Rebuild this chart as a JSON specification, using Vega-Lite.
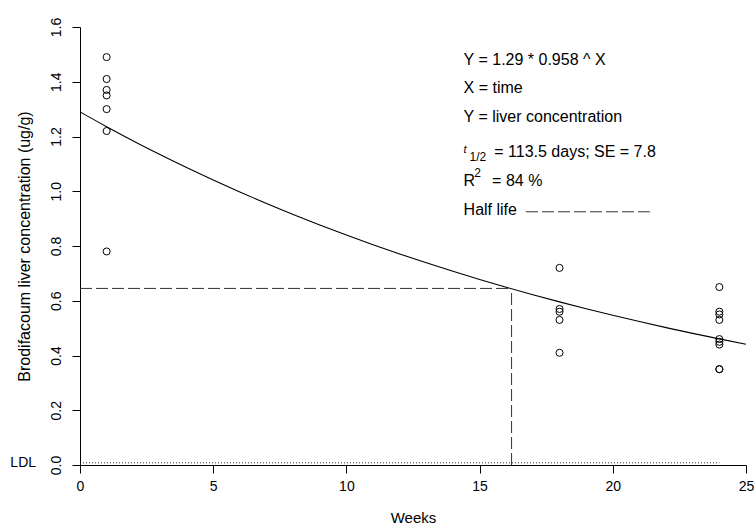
{
  "$schema": "https://vega.github.io/schema/vega-lite/v6.json",
  "width": 666,
  "height": 438,
  "autosize": {"type": "none"},
  "padding": {"left": 80, "top": 27, "right": 8, "bottom": 65},
  "background": "white",
  "config": {
    "view": {"stroke": null},
    "font": "Liberation Sans",
    "axis": {
      "grid": false,
      "domainColor": "black",
      "domainWidth": 1,
      "tickColor": "black",
      "tickWidth": 1,
      "tickSize": 8,
      "labelColor": "black",
      "titleColor": "black",
      "labelFont": "Liberation Sans",
      "titleFont": "Liberation Sans",
      "titleFontWeight": "normal",
      "labelFontSize": 14,
      "titleFontSize": 15
    }
  },
  "datasets": {
    "obs": [
      {"week": 1, "conc": 1.49}, {"week": 1, "conc": 1.41}, {"week": 1, "conc": 1.37},
      {"week": 1, "conc": 1.35}, {"week": 1, "conc": 1.30}, {"week": 1, "conc": 1.22},
      {"week": 1, "conc": 0.78},
      {"week": 18, "conc": 0.72}, {"week": 18, "conc": 0.57}, {"week": 18, "conc": 0.56},
      {"week": 18, "conc": 0.53}, {"week": 18, "conc": 0.41},
      {"week": 24, "conc": 0.65}, {"week": 24, "conc": 0.56}, {"week": 24, "conc": 0.55},
      {"week": 24, "conc": 0.53}, {"week": 24, "conc": 0.46}, {"week": 24, "conc": 0.45},
      {"week": 24, "conc": 0.44}, {"week": 24, "conc": 0.35}, {"week": 24, "conc": 0.35}
    ],
    "fit": [
      {"week": 0, "conc": 1.29}, {"week": 1, "conc": 1.2358}, {"week": 2, "conc": 1.1839},
      {"week": 3, "conc": 1.1342}, {"week": 4, "conc": 1.0866}, {"week": 5, "conc": 1.0409},
      {"week": 6, "conc": 0.9972}, {"week": 7, "conc": 0.9553}, {"week": 8, "conc": 0.9152},
      {"week": 9, "conc": 0.8768}, {"week": 10, "conc": 0.8399}, {"week": 11, "conc": 0.8047},
      {"week": 12, "conc": 0.7709}, {"week": 13, "conc": 0.7385}, {"week": 14, "conc": 0.7075},
      {"week": 15, "conc": 0.6778}, {"week": 16, "conc": 0.6493}, {"week": 17, "conc": 0.6220},
      {"week": 18, "conc": 0.5959}, {"week": 19, "conc": 0.5709}, {"week": 20, "conc": 0.5469},
      {"week": 21, "conc": 0.5239}, {"week": 22, "conc": 0.5019}, {"week": 23, "conc": 0.4808},
      {"week": 24, "conc": 0.4606}, {"week": 25, "conc": 0.4413}
    ],
    "halflife": [
      {"week": 0, "week2": 16.2, "conc": 0.645, "conc2": 0.645},
      {"week": 16.2, "week2": 16.2, "conc": 0, "conc2": 0.645},
      {"week": 16.74, "week2": 21.5, "conc": 0.925, "conc2": 0.925}
    ],
    "ldl": [
      {"week": 0, "week2": 24, "conc": 0.008, "conc2": 0.008}
    ],
    "ldllabel": [
      {"week": -1.65, "conc": 0.008, "label": "LDL"}
    ],
    "notes": [
      {"week": 14.4, "conc": 1.478, "label": "Y = 1.29 * 0.958 ^ X"},
      {"week": 14.4, "conc": 1.376, "label": "X = time"},
      {"week": 14.4, "conc": 1.270, "label": "Y = liver concentration"},
      {"week": 15.55, "conc": 1.142, "label": "=  113.5 days; SE = 7.8"},
      {"week": 14.4, "conc": 1.036, "label": "R"},
      {"week": 15.47, "conc": 1.036, "label": "= 84 %"},
      {"week": 14.4, "conc": 0.931, "label": "Half life"}
    ],
    "tnote": [
      {"week": 14.4, "conc": 1.152, "label": "t"}
    ],
    "subnote": [
      {"week": 14.62, "conc": 1.124, "label": "1/2"}
    ],
    "supnote": [
      {"week": 14.8, "conc": 1.068, "label": "2"}
    ]
  },
  "layer": [
    {
      "data": {"name": "obs"},
      "mark": {"type": "point", "shape": "circle", "filled": false, "stroke": "black", "strokeWidth": 1, "size": 50, "opacity": 1},
      "encoding": {
        "x": {
          "field": "week", "type": "quantitative",
          "scale": {"domain": [0, 25], "nice": false, "zero": false},
          "axis": {"title": "Weeks", "values": [0, 5, 10, 15, 20, 25], "format": "d", "labelPadding": 6, "titlePadding": 17, "labelFlush": false}
        },
        "y": {
          "field": "conc", "type": "quantitative",
          "scale": {"domain": [0, 1.6], "nice": false, "zero": false},
          "axis": {"title": "Brodifacoum liver concentration (ug/g)", "values": [0, 0.2, 0.4, 0.6, 0.8, 1.0, 1.2, 1.4, 1.6], "format": ".1f", "labelAngle": -90, "labelAlign": "center", "labelBaseline": "bottom", "labelPadding": 9, "titlePadding": 17, "titleFontSize": 16, "labelFlush": false}
        }
      }
    },
    {
      "data": {"name": "fit"},
      "mark": {"type": "line", "color": "black", "strokeWidth": 1.1, "interpolate": "monotone"},
      "encoding": {
        "x": {"field": "week", "type": "quantitative"},
        "y": {"field": "conc", "type": "quantitative"}
      }
    },
    {
      "data": {"name": "halflife"},
      "mark": {"type": "rule", "color": "#333333", "strokeWidth": 1, "strokeDash": [12, 4]},
      "encoding": {
        "x": {"field": "week", "type": "quantitative"},
        "x2": {"field": "week2"},
        "y": {"field": "conc", "type": "quantitative"},
        "y2": {"field": "conc2"}
      }
    },
    {
      "data": {"name": "ldl"},
      "mark": {"type": "rule", "color": "#333333", "strokeWidth": 1, "strokeDash": [1, 2]},
      "encoding": {
        "x": {"field": "week", "type": "quantitative"},
        "x2": {"field": "week2"},
        "y": {"field": "conc", "type": "quantitative"},
        "y2": {"field": "conc2"}
      }
    },
    {
      "data": {"name": "ldllabel"},
      "mark": {"type": "text", "align": "right", "baseline": "middle", "fontSize": 14, "color": "black", "clip": false},
      "encoding": {
        "x": {"field": "week", "type": "quantitative"},
        "y": {"field": "conc", "type": "quantitative"},
        "text": {"field": "label"}
      }
    },
    {
      "data": {"name": "notes"},
      "mark": {"type": "text", "align": "left", "baseline": "middle", "fontSize": 16, "color": "black"},
      "encoding": {
        "x": {"field": "week", "type": "quantitative"},
        "y": {"field": "conc", "type": "quantitative"},
        "text": {"field": "label"}
      }
    },
    {
      "data": {"name": "tnote"},
      "mark": {"type": "text", "align": "left", "baseline": "middle", "fontSize": 11, "fontStyle": "italic", "color": "black"},
      "encoding": {
        "x": {"field": "week", "type": "quantitative"},
        "y": {"field": "conc", "type": "quantitative"},
        "text": {"field": "label"}
      }
    },
    {
      "data": {"name": "subnote"},
      "mark": {"type": "text", "align": "left", "baseline": "middle", "fontSize": 12, "color": "black"},
      "encoding": {
        "x": {"field": "week", "type": "quantitative"},
        "y": {"field": "conc", "type": "quantitative"},
        "text": {"field": "label"}
      }
    },
    {
      "data": {"name": "supnote"},
      "mark": {"type": "text", "align": "left", "baseline": "middle", "fontSize": 12, "color": "black"},
      "encoding": {
        "x": {"field": "week", "type": "quantitative"},
        "y": {"field": "conc", "type": "quantitative"},
        "text": {"field": "label"}
      }
    }
  ]
}
